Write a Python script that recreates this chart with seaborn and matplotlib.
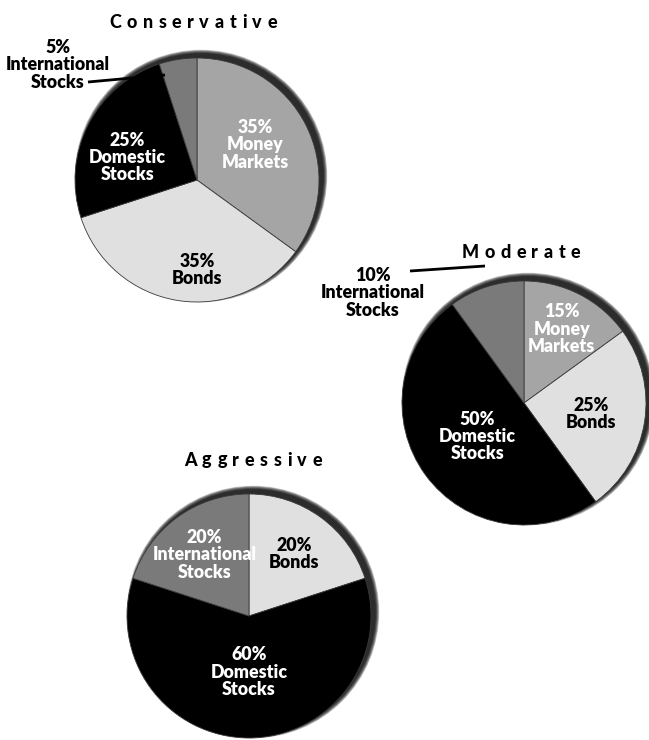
import matplotlib
matplotlib.use("Agg")
import matplotlib.pyplot as plt
import seaborn as sns
from matplotlib.patches import Circle
from matplotlib.font_manager import FontProperties
from matplotlib.textpath import TextToPath
import numpy as np

# ---------------- data ----------------
cons_labels = ["Money\nMarkets", "Bonds", "Domestic\nStocks", "International\nStocks"]
cons_values = [35, 35, 25, 5]
mod_labels = ["Money\nMarkets", "Bonds", "Domestic\nStocks", "International\nStocks"]
mod_values = [15, 25, 50, 10]
agg_labels = ["Bonds", "Domestic\nStocks", "International\nStocks"]
agg_values = [20, 60, 20]
titles = ["Conservative", "Moderate", "Aggressive"]

# ---------------- style ----------------
sns.set_theme(style="white")
plt.rcParams["font.family"] = ["Lato", "DejaVu Sans"]

COL = {"Money\nMarkets": "#a5a5a5", "Bonds": "#e0e0e0",
       "Domestic\nStocks": "#000000", "International\nStocks": "#7a7a7a"}
TXT = {"Money\nMarkets": "white", "Bonds": "black",
       "Domestic\nStocks": "white", "International\nStocks": "white"}

W, H = 649, 740
fig = plt.figure(figsize=(W / 100, H / 100), dpi=100)
ax = fig.add_axes([0, 0, 1, 1])
FS = 12.8
LBL = FontProperties(family="Lato", weight="heavy", size=FS)

def Y(y):
    return H - y

def draw_shadow(cx, cy, r):
    for k in range(6, 0, -1):
        ax.add_patch(Circle((cx + 4, Y(cy) + 4), r + k * 0.7, color="black",
                            alpha=0.25, lw=0, zorder=0))

def draw_pie(values, labels, cx, cy, r, label_style, outside=None):
    draw_shadow(cx, cy, r)
    wedges, _ = ax.pie(values, colors=[COL[l] for l in labels], startangle=90,
                       counterclock=False, center=(cx, Y(cy)), radius=r,
                       frame=True,
                       wedgeprops=dict(edgecolor="#3a3a3a", linewidth=0.6, zorder=2))
    for w, v, lab in zip(wedges, values, labels):
        if lab in label_style:
            d, shift = label_style[lab]
            ang = np.deg2rad((w.theta1 + w.theta2) / 2 + shift)
            x = cx + d * r * np.cos(ang)
            y = Y(cy) + d * r * np.sin(ang)
            ax.text(x, y, f"{v}%\n{lab}", ha="center", va="center",
                    fontproperties=LBL, color=TXT[lab], linespacing=1.02, zorder=5)
    if outside is not None:
        lab, (tx, ty), line = outside
        v = values[labels.index(lab)]
        ax.text(tx, Y(ty), f"{v}%\n{lab}", ha="center", va="center",
                fontproperties=LBL, color="black", linespacing=1.02, zorder=5)
        (x0, y0), (x1, y1) = line
        ax.plot([x0, x1], [Y(y0), Y(y1)], color="black", lw=2, zorder=6,
                solid_capstyle="butt")

def tracked_title(text, cx, cy, fs=13, track_pt=4.0):
    fp = FontProperties(family="Lato", weight="black", size=fs)
    t2p = TextToPath()
    widths = [t2p.get_text_width_height_descent(ch, fp, ismath=False)[0] for ch in text]
    total = sum(widths) + track_pt * (len(text) - 1)
    off = -total / 2
    for ch, w in zip(text, widths):
        ax.annotate(ch, xy=(cx, Y(cy)), xytext=(off, 0), textcoords="offset points",
                    ha="left", va="center", fontproperties=fp, color="black", zorder=6)
        off += w + track_pt

# Conservative
draw_pie(cons_values, cons_labels, 197, 180, 122,
         {"Money\nMarkets": (0.56, 4), "Bonds": (0.74, 9), "Domestic\nStocks": (0.6, 9)},
         outside=("International\nStocks", (58, 65), ((88, 82), (165, 75))))
tracked_title(titles[0], 193, 22)

# Moderate
draw_pie(mod_values, mod_labels, 524, 403, 122,
         {"Money\nMarkets": (0.68, 0), "Bonds": (0.56, 0), "Domestic\nStocks": (0.47, 0)},
         outside=("International\nStocks", (373, 293), ((410, 271), (485, 266))))
tracked_title(titles[1], 521, 253)

# Aggressive
draw_pie(agg_values, agg_labels, 249, 616, 122,
         {"Bonds": (0.63, 0), "Domestic\nStocks": (0.46, 0), "International\nStocks": (0.62, 0)})
tracked_title(titles[2], 253, 460)

ax.set_xlim(0, W)
ax.set_ylim(0, H)
ax.set_aspect("equal")
ax.axis("off")
fig.savefig("out.png", dpi=100, facecolor="white")
